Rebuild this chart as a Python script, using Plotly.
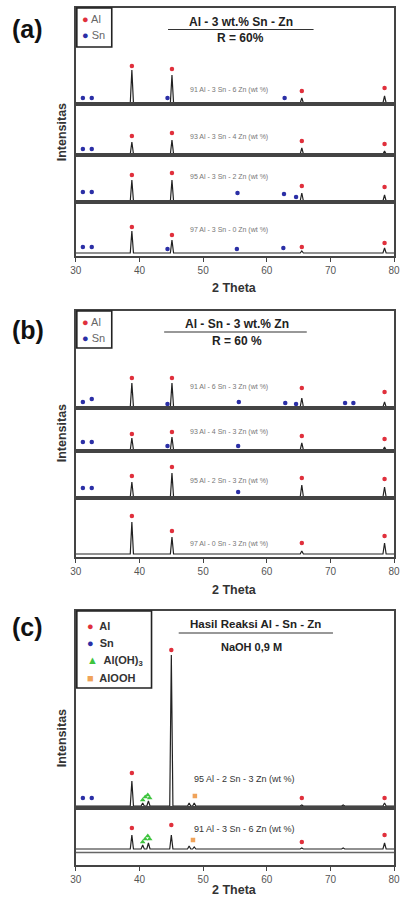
import plotly.graph_objects as go

W, H = 403, 903
X0, X1 = 72, 400
FONT = "Liberation Sans, Arial, sans-serif"

AL_C = "#e0303c"
SN_C = "#2b2fa6"
AOH_C = "#3ec43e"
AOOH_C = "#f0a35a"
LINE_C = "#222222"
FRAME_C = "#444444"

# ---------------- data (2 theta in degrees, intensity in a.u.) ----------------
al_pos = [38.8, 45.1, 65.5, 78.5]

# panel (a): Al - 3 wt.% Sn - Zn
a_labels = ["91 Al - 3 Sn - 6 Zn (wt %)", "93 Al - 3 Sn - 4 Zn (wt %)",
            "95 Al - 3 Sn - 2 Zn (wt %)", "97 Al - 3 Sn - 0 Zn (wt %)"]
a_peak_h = [[33, 28, 5, 7], [12, 14, 6, 3], [21, 21, 8, 6], [22, 13, 2, 5]]
a_al_mark = [[37, 34, 12, 15], [18, 21, 13, 10], [26, 28, 15, 14], [26, 18, 6, 10]]
a_sn_pos = [[31.1, 32.5, 44.4, 62.8], [31.1, 32.5], [31.1, 32.5, 55.4, 62.7, 64.6],
            [31.1, 32.5, 44.4, 55.3, 62.6]]
a_sn_mark = [[5, 5, 5, 5], [5, 5], [9, 9, 8, 7, 4], [6, 6, 4, 4, 5]]

# panel (b): Al - Sn - 3 wt.% Zn
b_labels = ["91 Al - 6 Sn - 3 Zn (wt %)", "93 Al - 4 Sn - 3 Zn (wt %)",
            "95 Al - 2 Sn - 3 Zn (wt %)", "97 Al - 0 Sn - 3 Zn (wt %)"]
b_peak_h = [[24, 24, 9, 5], [12, 13, 7, 3], [15, 24, 12, 10], [32, 17, 3, 11]]
b_al_mark = [[29, 29, 19, 15], [16, 18, 14, 11], [21, 30, 19, 18], [38, 23, 11, 18]]
b_sn_pos = [[31.1, 32.5, 44.4, 55.6, 62.9, 64.6, 72.3, 73.6], [31.1, 32.5, 44.4, 55.5],
            [31.1, 32.5, 55.5], []]
b_sn_mark = [[5, 8, 3, 5, 4, 3, 4, 4], [8, 8, 4, 4], [9, 9, 5], []]

# panel (c): Hasil Reaksi Al - Sn - Zn, NaOH 0,9 M
c_labels = ["95 Al - 2 Sn - 3 Zn (wt %)", "91 Al - 3 Sn - 6 Zn (wt %)"]
c_peak_pos = [38.8, 40.5, 41.4, 45.0, 47.8, 48.6, 65.5, 72.0, 78.5]
c_peak_h = [[25, 3, 5, 151, 3, 3, 1, 1, 3], [14, 4, 6, 14, 3, 2, 1, 1, 6]]
c_al_pos = [38.8, 45.0, 65.5, 78.5]
c_al_mark = [[33, 156, 8, 8], [21, 24, 7, 14]]
c_sn_pos = [[31.1, 32.5], []]
c_sn_mark = [[8, 8], []]
c_aoh_pos = [[40.5, 40.9, 41.3, 41.6], [40.5, 40.9, 41.3, 41.6]]
c_aoh_mark = [[6, 9, 11, 8], [7, 10, 13, 10]]
c_aooh_pos = [[48.7], [48.4]]
c_aooh_mark = [[10], [9]]

# ---------------- helpers ----------------
fig = go.Figure()
layout_axes = {}
annotations = []
shapes = []
HW = 0.25  # peak half width (deg), drawing style


def py(y):
    return 1 - y / H


def px(x):
    return x / W


sub_count = [0]


def add_sub(top, bottom, base, is_bottom):
    sub_count[0] += 1
    k = sub_count[0]
    s = "" if k == 1 else str(k)
    xa = dict(domain=[px(X0), px(X1)], range=[30, 80], anchor="y" + s,
              showline=True, mirror=True, linecolor=FRAME_C, linewidth=1.6,
              showgrid=False, zeroline=False, fixedrange=True)
    if is_bottom:
        xa.update(tickvals=[30, 40, 50, 60, 70, 80], ticks="outside", ticklen=4,
                  tickcolor=FRAME_C, tickfont=dict(size=10, color="#555", family=FONT),
                  showticklabels=True, ticklabeloverflow="allow")
    else:
        xa.update(showticklabels=False, ticks="")
    ya = dict(domain=[py(bottom), py(top)], range=[-(bottom - base), base - top],
              anchor="x" + s, showline=True, mirror=True, linecolor=FRAME_C,
              linewidth=1.6, showgrid=False, zeroline=False, showticklabels=False,
              ticks="", fixedrange=True)
    layout_axes["xaxis" + s] = xa
    layout_axes["yaxis" + s] = ya
    return "x" + s, "y" + s


def profile(pos, hts):
    xs, ys = [30], [0]
    for p, h in sorted(zip(pos, hts)):
        xs += [p - HW, p, p + HW]
        ys += [0, h, 0]
    xs.append(80)
    ys.append(0)
    return xs, ys


def add_markers(xr, yr, xs, ys, color, symbol="circle", size=4.5):
    if not xs:
        return
    fig.add_trace(go.Scatter(x=xs, y=ys, xaxis=xr, yaxis=yr, mode="markers",
                             marker=dict(color=color, size=size, symbol=symbol,
                                         line=dict(width=0)),
                             showlegend=False, hoverinfo="skip"))


def add_line(xr, yr, pos, hts):
    xs, ys = profile(pos, hts)
    fig.add_trace(go.Scatter(x=xs, y=ys, xaxis=xr, yaxis=yr, mode="lines",
                             line=dict(color=LINE_C, width=1.2),
                             showlegend=False, hoverinfo="skip"))


def add_label(xr, text, ypix, size, color, x=47.6):
    annotations.append(dict(x=x, xref=xr, y=py(ypix), yref="paper", text=text,
                            showarrow=False, xanchor="left", yanchor="middle",
                            font=dict(size=size, color=color, family=FONT)))


def paper_text(text, x, y, size, bold=True, color="#222", xanchor="center", angle=0):
    annotations.append(dict(x=px(x), y=py(y), xref="paper", yref="paper",
                            text=f"<b>{text}</b>" if bold else text, showarrow=False,
                            xanchor=xanchor, yanchor="middle", textangle=angle,
                            font=dict(size=size, color=color, family=FONT)))


def hline(x0, x1, y, width=1.2, color="#333"):
    shapes.append(dict(type="line", xref="paper", yref="paper", x0=px(x0), x1=px(x1),
                       y0=py(y), y1=py(y), line=dict(color=color, width=width)))


def box(x0, y0, x1, y1):
    shapes.append(dict(type="rect", xref="paper", yref="paper", x0=px(x0), x1=px(x1),
                       y0=py(y1), y1=py(y0), line=dict(color="#222", width=1.6)))


# ---------------- panel (a) ----------------
a_geo = [(8, 104, 103), (104, 155, 154), (155, 202, 201), (202, 256, 253)]
a_lab_y = [90, 137, 177, 230]
for i, (t, b, base) in enumerate(a_geo):
    xr, yr = add_sub(t, b, base, i == 3)
    add_line(xr, yr, al_pos, a_peak_h[i])
    add_markers(xr, yr, al_pos, a_al_mark[i], AL_C)
    add_markers(xr, yr, a_sn_pos[i], a_sn_mark[i], SN_C)
    add_label(xr, a_labels[i], a_lab_y[i], 7, "#777")

# ---------------- panel (b) ----------------
b_geo = [(311, 408, 407), (408, 451, 450), (451, 498, 497), (498, 557, 554)]
b_lab_y = [387, 432, 481, 544]
for i, (t, b, base) in enumerate(b_geo):
    xr, yr = add_sub(t, b, base, i == 3)
    add_line(xr, yr, al_pos, b_peak_h[i])
    add_markers(xr, yr, al_pos, b_al_mark[i], AL_C)
    add_markers(xr, yr, b_sn_pos[i], b_sn_mark[i], SN_C)
    add_label(xr, b_labels[i], b_lab_y[i], 7, "#777")

# ---------------- panel (c) ----------------
c_geo = [(611, 808, 806), (808, 865, 849)]
c_lab_y = [779, 829]
for i, (t, b, base) in enumerate(c_geo):
    xr, yr = add_sub(t, b, base, i == 1)
    add_line(xr, yr, c_peak_pos, c_peak_h[i])
    add_markers(xr, yr, c_al_pos, c_al_mark[i], AL_C)
    add_markers(xr, yr, c_sn_pos[i], c_sn_mark[i], SN_C)
    add_markers(xr, yr, c_aoh_pos[i], c_aoh_mark[i], AOH_C, "triangle-up", 5)
    add_markers(xr, yr, c_aooh_pos[i], c_aooh_mark[i], AOOH_C, "square", 4.5)
    add_label(xr, c_labels[i], c_lab_y[i], 9, "#333", x=48.3)
# extra layer border below the lower pattern of panel (c)
hline(X0, X1, 852.5, width=1.4, color="#666")

# ---------------- text / decorations ----------------
for lab, y in [("(a)", 29), ("(b)", 330), ("(c)", 627)]:
    paper_text(lab, 4, y, 25, xanchor="left", color="#111")

for y in [132, 433, 738]:
    paper_text("Intensitas", 58, y, 12.5, angle=-90, color="#333")

for y in [288, 590, 890]:
    paper_text("2 Theta", 236, y, 12.5, color="#333")

# titles
paper_text("Al - 3 wt.% Sn - Zn", 242, 22, 12)
hline(167, 317, 29.5)
paper_text("R = 60%", 242, 38, 12)

paper_text("Al - Sn - 3 wt.% Zn", 238, 324, 12)
hline(163, 310, 332)
paper_text("R = 60 %", 238, 341, 12)

paper_text("Hasil Reaksi Al - Sn - Zn", 257, 624, 11.5)
hline(178, 337, 633)
paper_text("NaOH 0,9 M", 253, 647, 11)

# legend boxes
box(73, 8, 109, 47)
paper_text(f"<span style='color:{AL_C}'>●</span> Al", 76, 19, 11, bold=False, color="#666", xanchor="left")
paper_text(f"<span style='color:{SN_C}'>●</span> Sn", 76, 35, 11, bold=False, color="#666", xanchor="left")

box(73, 311, 109, 348)
paper_text(f"<span style='color:{AL_C}'>●</span> Al", 76, 322, 11, bold=False, color="#666", xanchor="left")
paper_text(f"<span style='color:{SN_C}'>●</span> Sn", 76, 338, 11, bold=False, color="#666", xanchor="left")

box(73, 611, 150, 688)
paper_text(f"<span style='color:{AL_C}'>●</span>  Al", 81, 626, 11, color="#333", xanchor="left")
paper_text(f"<span style='color:{SN_C}'>●</span>  Sn", 81, 643, 11, color="#333", xanchor="left")
paper_text(f"<span style='color:{AOH_C}'>▲</span>  Al(OH)<sub>3</sub>", 81, 661, 11, color="#333", xanchor="left")
paper_text(f"<span style='color:{AOOH_C}'>■</span>  AlOOH", 81, 678, 11, color="#333", xanchor="left")

fig.update_layout(width=W, height=H, margin=dict(l=0, r=0, t=0, b=0),
                  paper_bgcolor="white", plot_bgcolor="white", showlegend=False,
                  annotations=annotations, shapes=shapes, **layout_axes)

fig.write_html("out.html", config={"displayModeBar": False})
